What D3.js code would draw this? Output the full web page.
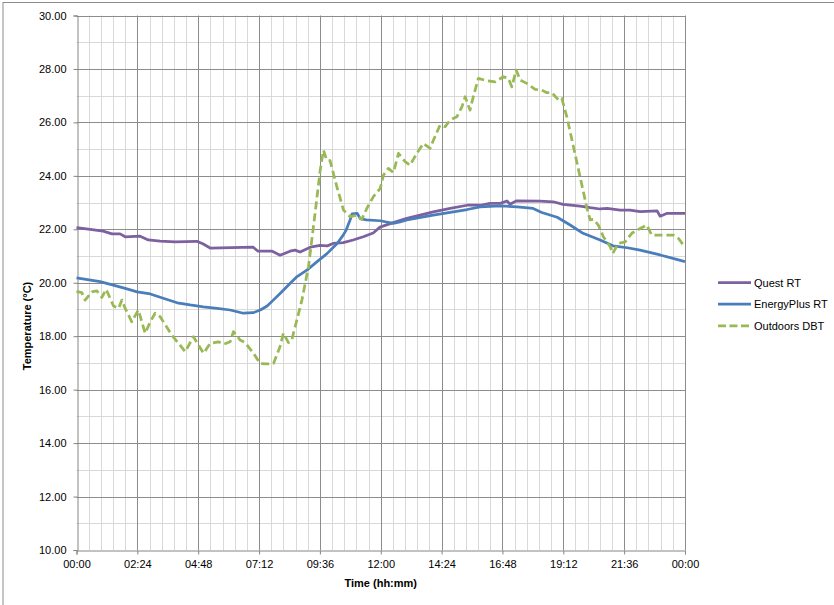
<!DOCTYPE html>
<html>
<head>
<meta charset="utf-8">
<script src="https://cdn.jsdelivr.net/npm/d3@7"></script>
<style>
  html, body { margin: 0; padding: 0; background: #fff; }
  svg { display: block; }
  text { font-family: "Liberation Sans", Arial, sans-serif; fill: #000; }
</style>
</head>
<body>
<svg id="chart" width="834" height="605"></svg>
<script>
// ---- Data (time in hours, temperature in °C) ----
const seriesNames = ["Quest RT", "EnergyPlus RT", "Outdoors DBT"];

const questRT = [
  [0.00,22.06],[0.54,22.00],[1.05,21.93],[1.40,21.83],[1.72,21.83],[1.92,21.72],
  [2.51,21.74],[2.83,21.60],[3.30,21.56],[3.89,21.53],[4.75,21.55],[5.00,21.45],
  [5.27,21.30],[6.97,21.33],[7.16,21.18],[7.72,21.18],[8.03,21.03],[8.42,21.18],
  [8.62,21.22],[8.82,21.15],[9.22,21.33],[9.61,21.40],[9.89,21.38],[10.12,21.47],
  [10.52,21.50],[10.91,21.60],[11.31,21.72],[11.70,21.86],[11.97,22.08],[12.49,22.25],
  [13.03,22.41],[13.55,22.53],[14.07,22.65],[14.74,22.78],[15.41,22.90],[15.92,22.90],
  [16.31,22.97],[16.71,22.97],[16.98,23.06],[17.10,22.94],[17.34,23.06],[18.28,23.05],
  [18.80,23.03],[19.19,22.93],[19.86,22.87],[20.26,22.81],[20.65,22.76],[20.93,22.78],
  [21.44,22.72],[21.83,22.72],[22.23,22.66],[22.90,22.69],[23.02,22.49],[23.30,22.60],
  [24.00,22.60]
];

const energyPlusRT = [
  [0.00,20.18],[0.93,20.04],[1.45,19.91],[1.92,19.79],[2.39,19.66],[2.91,19.58],
  [3.42,19.42],[3.97,19.25],[4.48,19.17],[5.00,19.10],[5.55,19.04],[6.06,18.98],
  [6.58,18.86],[6.97,18.88],[7.25,18.98],[7.52,19.13],[7.76,19.35],[8.03,19.60],
  [8.43,19.98],[8.70,20.23],[9.10,20.48],[9.49,20.79],[9.89,21.10],[10.28,21.47],
  [10.52,21.78],[10.64,21.98],[10.79,22.35],[10.87,22.58],[11.07,22.60],[11.19,22.40],
  [11.43,22.35],[11.98,22.32],[12.49,22.22],[12.76,22.28],[13.03,22.35],[14.07,22.53],
  [15.41,22.74],[15.92,22.84],[16.71,22.88],[17.38,22.84],[18.01,22.78],[18.35,22.63],
  [18.96,22.45],[19.47,22.16],[19.98,21.85],[20.65,21.60],[21.16,21.38],[21.72,21.31],
  [22.23,21.22],[23.02,21.04],[24.00,20.79]
];

const outdoorsDBT = [
  [0.00,19.68],[0.21,19.63],[0.34,19.35],[0.61,19.66],[0.80,19.70],[1.00,19.45],
  [1.17,19.75],[1.46,19.13],[1.66,19.04],[1.79,19.35],[1.92,19.04],[2.18,18.54],
  [2.44,18.98],[2.71,18.11],[2.91,18.54],[3.10,18.86],[3.30,18.73],[3.76,18.04],
  [4.29,17.42],[4.61,17.98],[5.01,17.36],[5.27,17.73],[5.60,17.79],[5.80,17.70],
  [6.06,17.79],[6.19,18.17],[6.45,17.86],[6.65,17.76],[6.98,17.36],[7.24,16.98],
  [7.51,16.96],[7.77,16.98],[8.03,17.61],[8.16,18.11],[8.36,17.76],[8.49,17.86],
  [8.69,18.60],[8.89,19.35],[9.15,20.60],[9.41,22.60],[9.61,24.20],[9.74,24.96],
  [9.87,24.59],[10.00,24.57],[10.27,23.59],[10.53,22.72],[10.79,22.47],[11.06,22.53],
  [11.25,22.37],[11.45,22.78],[11.71,23.22],[11.98,23.53],[12.11,24.03],[12.30,24.28],
  [12.50,24.12],[12.70,24.84],[12.96,24.53],[13.16,24.40],[13.42,24.84],[13.68,25.21],
  [13.95,25.03],[14.08,25.34],[14.34,25.90],[14.54,25.84],[14.74,26.09],[15.00,26.21],
  [15.20,26.58],[15.33,26.96],[15.52,26.46],[15.65,26.96],[15.85,27.65],[16.18,27.56],
  [16.51,27.52],[16.84,27.71],[17.03,27.65],[17.17,27.33],[17.34,27.96],[17.50,27.58],
  [17.76,27.46],[18.09,27.24],[18.35,27.21],[18.55,27.11],[18.75,27.11],[19.01,26.84],
  [19.14,26.90],[19.34,26.21],[19.60,25.09],[19.86,23.97],[20.12,22.84],[20.26,22.35],
  [20.39,22.37],[20.58,22.16],[20.78,21.72],[21.05,21.35],[21.15,21.10],[21.37,21.47],
  [21.64,21.53],[21.90,21.85],[22.23,22.03],[22.49,22.16],[22.69,21.78],[23.02,21.78],
  [23.54,21.78],[23.74,21.66],[23.94,21.41]
];

const xTickHours = [0, 2.4, 4.8, 7.2, 9.6, 12, 14.4, 16.8, 19.2, 21.6, 24];
const yTickValues = [10, 12, 14, 16, 18, 20, 22, 24, 26, 28, 30];
const seriesColors = ["#7D60A0", "#4A7EBB", "#98B954"];

// ---- Layout ----
const svg = d3.select("#chart");
const plot = { left: 76.5, right: 685, top: 15.5, bottom: 550 };

const x = d3.scaleLinear().domain([0, 24]).range([plot.left, plot.right]);
const y = d3.scaleLinear().domain([10, 30]).range([plot.bottom, plot.top]);

// outer chart border (top and left visible)
svg.append("rect")
  .attr("x", 3).attr("y", 2.5).attr("width", 900).attr("height", 700)
  .attr("fill", "none").attr("stroke", "#8c8c8c").attr("stroke-width", 1);

const fmtTime = h => {
  const mins = Math.round(h * 60) % (24 * 60);
  return String(Math.floor(mins / 60)).padStart(2, "0") + ":" + String(mins % 60).padStart(2, "0");
};

// minor gridlines
const minorX = d3.range(0, 24.001, 0.48).filter(h => !xTickHours.some(t => Math.abs(t - h) < 1e-6));
const minorY = d3.range(11, 30, 2);
const grid = svg.append("g");
grid.selectAll("line.mx").data(minorX).join("line")
  .attr("x1", d => Math.round(x(d)) + 0.5).attr("x2", d => Math.round(x(d)) + 0.5)
  .attr("y1", plot.top).attr("y2", plot.bottom)
  .attr("stroke", "#d9d9d9").attr("stroke-width", 1);
grid.selectAll("line.my").data(minorY).join("line")
  .attr("y1", d => Math.round(y(d)) + 0.5).attr("y2", d => Math.round(y(d)) + 0.5)
  .attr("x1", plot.left).attr("x2", plot.right)
  .attr("stroke", "#d9d9d9").attr("stroke-width", 1);
// major gridlines
grid.selectAll("line.MX").data(xTickHours.slice(1)).join("line")
  .attr("x1", d => Math.round(x(d)) + 0.5).attr("x2", d => Math.round(x(d)) + 0.5)
  .attr("y1", plot.top).attr("y2", plot.bottom)
  .attr("stroke", "#8c8c8c").attr("stroke-width", 1);
grid.selectAll("line.MY").data(yTickValues.slice(1)).join("line")
  .attr("y1", d => Math.round(y(d)) + 0.5).attr("y2", d => Math.round(y(d)) + 0.5)
  .attr("x1", plot.left).attr("x2", plot.right)
  .attr("stroke", "#8c8c8c").attr("stroke-width", 1);

// axes
const xAxis = d3.axisBottom(x).tickValues(xTickHours).tickFormat(fmtTime).tickSize(4).tickPadding(6);
const yAxis = d3.axisLeft(y).tickValues(yTickValues).tickFormat(d3.format(".2f")).tickSize(4).tickPadding(7);

const gx = svg.append("g").attr("transform", `translate(0,${Math.round(plot.bottom) + 0.5})`).call(xAxis);
const gy = svg.append("g").attr("transform", `translate(${Math.round(plot.left) + 0.5},0)`).call(yAxis);
[gx, gy].forEach(g => {
  g.select(".domain").attr("stroke", "#868686");
  g.selectAll(".tick line").attr("stroke", "#868686");
  g.selectAll("text").attr("font-size", "11px").attr("font-family", "Liberation Sans, Arial, sans-serif").attr("fill", "#000");
});

// axis titles
svg.append("text")
  .attr("x", (plot.left + plot.right) / 2).attr("y", 587)
  .attr("text-anchor", "middle").attr("font-weight", "bold").attr("font-size", "11px")
  .text("Time (hh:mm)");
svg.append("text")
  .attr("transform", "translate(31,326) rotate(-90)")
  .attr("text-anchor", "middle").attr("font-weight", "bold").attr("font-size", "11px")
  .text("Temperature (°C)");

// lines
const line = d3.line().x(d => x(d[0])).y(d => y(d[1]));
const allSeries = [questRT, energyPlusRT, outdoorsDBT];
const dashes = [null, null, "8,4"];
const lines = svg.append("g");
allSeries.forEach((s, i) => {
  lines.append("path")
    .datum(s)
    .attr("d", line)
    .attr("fill", "none")
    .attr("stroke", seriesColors[i])
    .attr("stroke-width", 2.75)
    .attr("stroke-linejoin", "round")
    .attr("stroke-dasharray", dashes[i]);
});

// legend
const legend = svg.append("g");
seriesNames.forEach((name, i) => {
  const ly = 282.5 + i * 21.7;
  legend.append("line")
    .attr("x1", 718).attr("x2", 751).attr("y1", ly).attr("y2", ly)
    .attr("stroke", seriesColors[i]).attr("stroke-width", 2.75)
    .attr("stroke-dasharray", dashes[i] ? "8,3.5" : null);
  legend.append("text")
    .attr("x", 754).attr("y", ly + 4)
    .attr("font-size", "11px")
    .text(name);
});
</script>
</body>
</html>
